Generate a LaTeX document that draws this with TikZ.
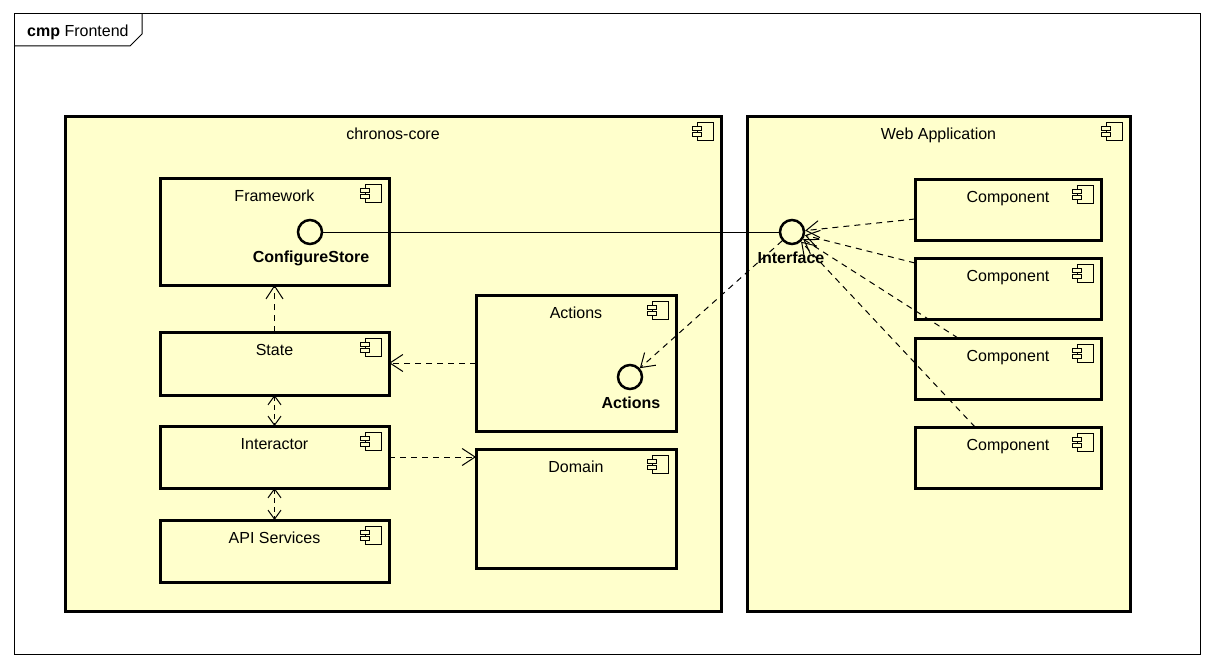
\documentclass[tikz,border=0pt]{standalone}
\usepackage{fontspec}
\setmainfont{Liberation Sans}
\usetikzlibrary{arrows.meta,calc}
\definecolor{umlfill}{HTML}{FFFFCC}

% component box: name, x, y, width, height, title
\newcommand\umlbox[6]{%
  \node[comp, minimum width=#4pt, minimum height=#5pt] (#1) at (#2,#3) {};
  \node[anchor=base] (#1-title) at ($(#1.north)+(0,23)$) {#6};
  \pic at ($(#1.north east)+(-8,6)$) {compicon};
}

\begin{document}
\begin{tikzpicture}[x=1pt,y=-1pt,
  font=\fontsize{16}{19}\selectfont,
  comp/.style={draw, line width=3pt, fill=umlfill, anchor=north west, inner sep=0pt, outer sep=0pt},
  iface/.style={circle, draw, line width=2.5pt, fill=umlfill, minimum size=24pt, inner sep=0pt},
  ilabel/.style={anchor=base, font=\fontsize{16}{19}\selectfont\bfseries},
  barb/.tip={Straight Barb[length=13pt,width=17pt,line width=1pt]},
  dep/.style={line width=1pt, dash pattern=on 6pt off 5pt, -barb},
  biDep/.style={line width=1pt, dash pattern=on 5pt off 4pt,
    {Straight Barb[length=9pt,width=13pt,line width=1pt]}-{Straight Barb[length=9pt,width=13pt,line width=1pt]}},
  compicon/.pic={
    \draw[line width=1pt, fill=umlfill] (-16,0) rectangle (0,18);
    \draw[line width=1pt, fill=umlfill] (-21,4) rectangle (-12,8);
    \draw[line width=1pt, fill=umlfill] (-21,10) rectangle (-12,14);
  }]

\useasboundingbox[fill=white] (0,0) rectangle (1213,666);

% outer frame with its name tab
\node[draw, line width=1pt, minimum width=1186pt, minimum height=640pt,
      anchor=north west, inner sep=0pt, outer sep=0pt] (frame) at (14,14) {};
\draw[line width=1pt] (14,46) -- (130,46) -- (142,34) -- (142,14);
\node[anchor=base west, inner sep=0pt] (frametitle) at (27,37) {\textbf{cmp} Frontend};

% containers
\umlbox{core}{65}{117}{656}{494}{chronos-core}
\umlbox{web}{747}{117}{383}{494}{Web Application}

% chronos-core parts
\umlbox{fw}{160}{178}{229}{107}{Framework}
\umlbox{st}{160}{332}{229}{63}{State}
\umlbox{ia}{160}{426}{229}{62}{Interactor}
\umlbox{api}{160}{520}{229}{62}{API Services}
\umlbox{actbox}{476}{295}{200}{136}{Actions}
\umlbox{dom}{476}{449}{200}{119}{Domain}

% web application parts
\umlbox{c1}{915}{179}{186}{61}{Component}
\umlbox{c2}{915}{258}{186}{61}{Component}
\umlbox{c3}{915}{338}{186}{61}{Component}
\umlbox{c4}{915}{427}{186}{61}{Component}

% provided interfaces
\node[iface] (cfg) at (310,232) {};
\node[ilabel] (cfg-label) at (311,262) {ConfigureStore};
\node[iface] (actif) at (630,377) {};
\node[ilabel] (actif-label) at (631,408) {Actions};
\node[iface] (ifc) at (792,232) {};
\node[ilabel] (ifc-label) at (791,263) {Interface};

% connectors
\draw[line width=1pt] (cfg) -- (ifc);
\draw[dep] ($(c1.north west)+(0,40)$) -- (ifc);
\draw[dep] ($(c2.north west)+(0,5)$) -- (ifc);
\draw[dep] ($(c3.north west)+(43,0)$) -- (ifc);
\draw[dep] ($(c4.north west)+(60,0)$) -- (ifc);
\draw[dep] (ifc) -- (actif);

\draw[dep] (st.north) -- (fw.south);
\draw[dep] (actbox.west) -- (actbox.west -| st.east);
\draw[dep] (ia.east) -- (ia.east -| dom.west);
\draw[biDep] (st.south) -- (ia.north);
\draw[biDep] (ia.south) -- (api.north);

\end{tikzpicture}
\end{document}
